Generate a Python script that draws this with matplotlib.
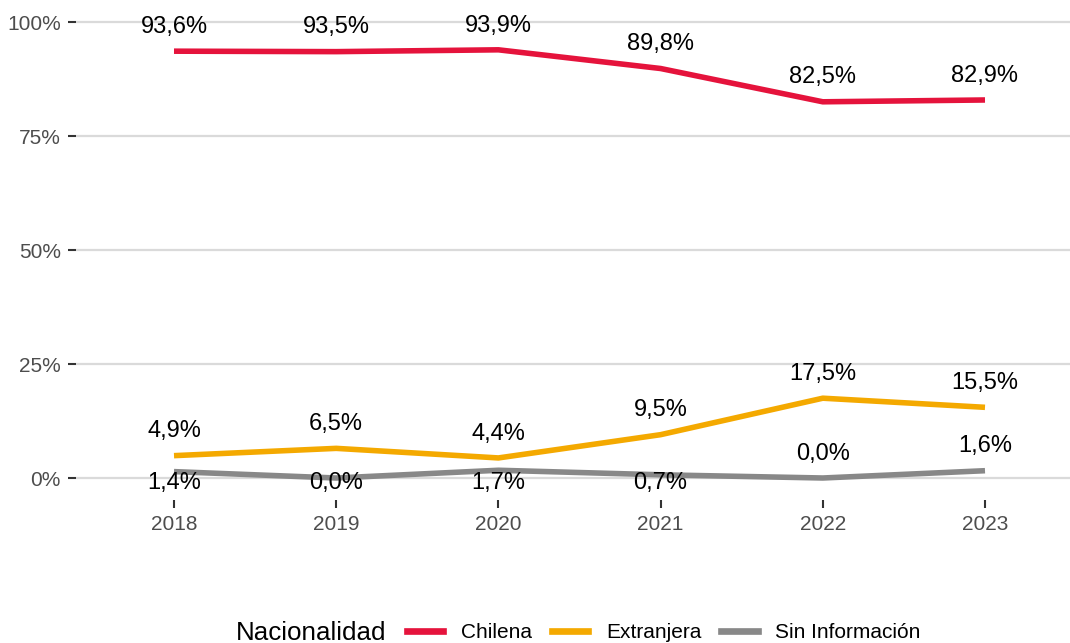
import matplotlib
matplotlib.use('Agg')
import matplotlib.pyplot as plt
from matplotlib.lines import Line2D
from matplotlib.ticker import FuncFormatter

plt.rcParams['font.family'] = ['Liberation Sans', 'DejaVu Sans']

# datos
years = [2018, 2019, 2020, 2021, 2022, 2023]
chilena = [93.6, 93.5, 93.9, 89.8, 82.5, 82.9]
extranjera = [4.9, 6.5, 4.4, 9.5, 17.5, 15.5]
sin_info = [1.4, 0.0, 1.7, 0.7, 0.0, 1.6]
series_names = ['Chilena', 'Extranjera', 'Sin Información']
colors = ['#E5133C', '#F4A900', '#888888']

# etiquetas arriba (True) o abajo (False) del punto
label_above = {
    'Chilena': [True] * 6,
    'Extranjera': [True] * 6,
    'Sin Información': [False, False, False, False, True, True],
}

W, H = 1070, 643
fig = plt.figure(figsize=(W / 100, H / 100), dpi=100)
ax = fig.add_axes([76 / W, 143 / H, 994 / W, 500 / H])

for name, vals, col in zip(series_names, [chilena, extranjera, sin_info], colors):
    y = [v / 100 for v in vals]
    ax.plot(years, y, color=col, lw=4, solid_capstyle='butt', zorder=3)
    for x, v, up in zip(years, y, label_above[name]):
        txt = '{:.1f}%'.format(v * 100).replace('.', ',')
        if up:
            pos, off = v, 17.5
        else:
            # las de abajo quedan todas a la misma altura, bajo el 0%
            pos, off = 0, -3.5
        ax.annotate(txt, (x, pos), xytext=(0, off), textcoords='offset points',
                    ha='center', va='center', fontsize=17, color='black',
                    zorder=4, annotation_clip=False)

ax.set_xlim(2018 - 98 / 162.2, 2023 + 85 / 162.2)
ax.set_ylim(-22 / 456, 1 + 22 / 456)
ax.set_xticks(years)
ax.set_yticks([0, 0.25, 0.5, 0.75, 1.0])
ax.yaxis.set_major_formatter(FuncFormatter(lambda v, p: '{:.0f}%'.format(v * 100)))
ax.grid(axis='y', color='#DADADA', lw=1.6)
ax.set_axisbelow(True)
for s in ax.spines.values():
    s.set_visible(False)
ax.tick_params(axis='both', length=6, width=1.5, color='#333333',
               labelsize=15, labelcolor='#4D4D4D', pad=5)

# leyenda
ly = 1 - 632.5 / H
fig.text(236 / W, ly, 'Nacionalidad', fontsize=18.7, ha='left', va='center')
handles = [Line2D([0], [0], color=c, lw=4.8) for c in colors]
fig.legend(handles, series_names, loc='center left', bbox_to_anchor=(407 / W, ly),
           ncol=3, frameon=False, fontsize=15, borderpad=0, borderaxespad=0,
           handlelength=1.75, handletextpad=0.85, columnspacing=0.95)

fig.savefig('out.png', dpi=100)
